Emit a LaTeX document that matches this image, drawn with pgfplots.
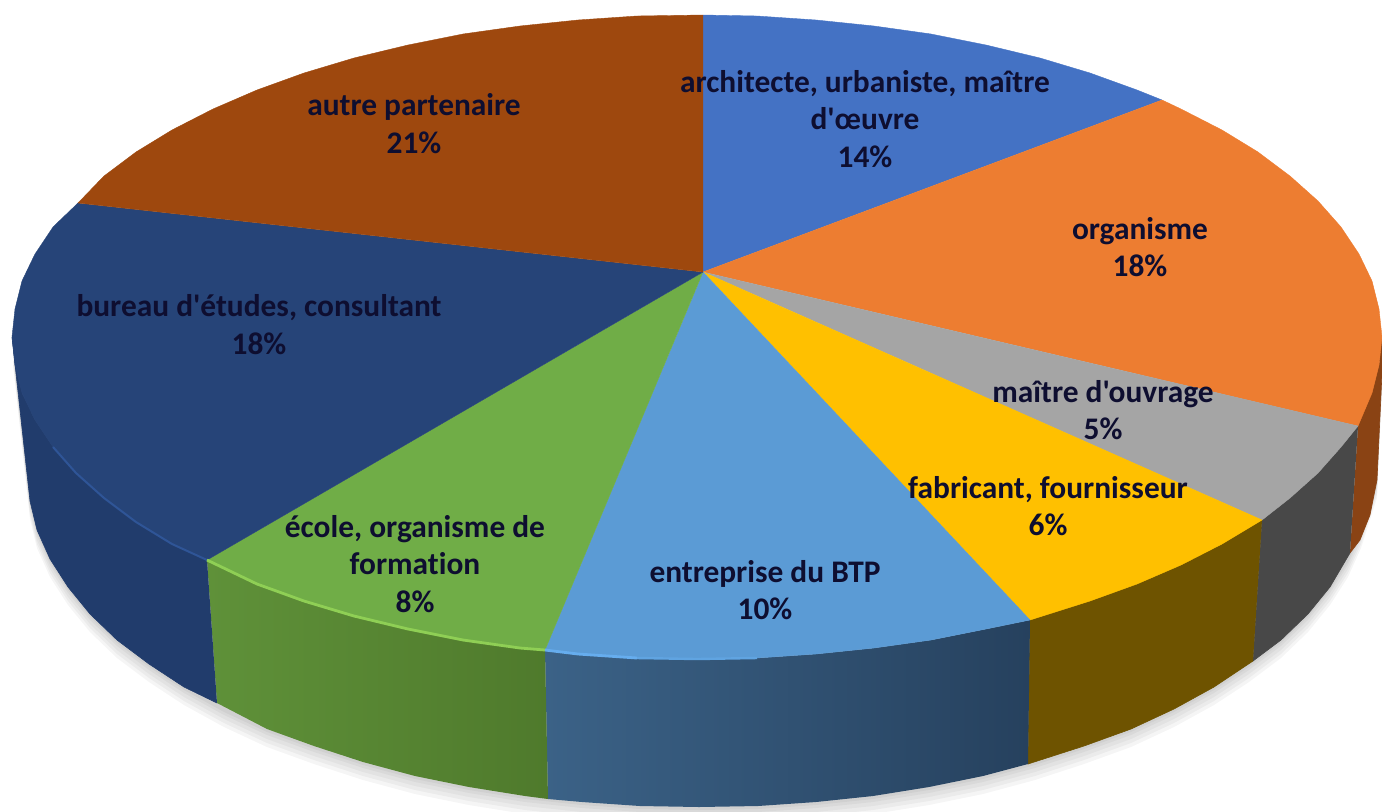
\documentclass[border=0pt]{standalone}
\usepackage{pgfplots}
\pgfplotsset{compat=1.18}
\usepackage{fontspec}
\setmainfont{Carlito}[Ligatures={TeXReset,NoCommon}]
\definecolor{cBlue}{HTML}{4472C4}
\definecolor{cOrange}{HTML}{ED7D31}
\definecolor{cGray}{HTML}{A5A5A5}
\definecolor{cYellow}{HTML}{FFC000}
\definecolor{cLBlue}{HTML}{5B9BD5}
\definecolor{cGreen}{HTML}{70AD47}
\definecolor{cNavy}{HTML}{264478}
\definecolor{cBrown}{HTML}{9E480E}
\definecolor{sOrange}{HTML}{8A4314}
\definecolor{sGray}{HTML}{484848}
\definecolor{sYellow}{HTML}{6E5300}
\definecolor{sBlueL}{HTML}{3B6287}
\definecolor{sBlueR}{HTML}{26415E}
\definecolor{sGreenL}{HTML}{4F7A2C}
\definecolor{sGreenR}{HTML}{5F9139}
\definecolor{sNavy}{HTML}{213C6C}
\definecolor{rGreen}{HTML}{8FCF55}
\definecolor{rBlue}{HTML}{66ADEE}
\definecolor{rNavy}{HTML}{2F5597}
\definecolor{txt}{HTML}{0E0E30}
\tikzset{lbl/.style={font=\fontsize{15.7}{18.9}\selectfont\bfseries, text=txt, align=center, inner sep=0pt}}
\begin{document}
\begin{tikzpicture}
\path[use as bounding box] (0,0) rectangle (691pt,405.5pt);
\begin{axis}[
  at={(0,0)}, anchor=south west,
  scale only axis, width=691pt, height=405.5pt,
  xmin=0, xmax=1382, ymin=0, ymax=811, y dir=reverse,
  hide axis, no markers, clip=true,
  every axis plot/.append style={forget plot}
]
% soft shadow
\pgfplotsinvokeforeach{9pt,7pt,5pt,3pt,1.5pt}{
\addplot[fill=black, fill opacity=0.04, draw=none, yshift=-#1] coordinates {(1382,373)(1377,480)(1361,530)(1348,559)(1330,587)(1308,614)(1281,640)(1249,664)(1214,687)(1174,709)(1131,729)(1084,746)(1035,762)(983,776)(929,787)(873,796)(816,802)(758,806)(699,807)(640,806)(582,802)(525,796)(469,787)(415,776)(363,762)(314,746)(267,729)(224,709)(184,687)(149,664)(117,640)(90,614)(68,587)(50,559)(37,530)(30,501)(13,347)};
}
% side faces
\addplot[fill=sOrange, draw=sOrange, line width=0.3pt] coordinates {(1358,426)(1379,365)(1382,337)(1382,373)(1377,480)(1370,515)(1360,540)(1350,553)};
\addplot[fill=sGray, draw=sGray, line width=0.3pt] coordinates {(1358,426)(1341,447)(1318,473)(1290,498)(1262,520)(1253,661)(1281,640)(1308,614)(1330,587)(1350,553)};
\addplot[fill=sYellow, draw=sYellow, line width=0.3pt] coordinates {(1262,520)(1222,544)(1181,565)(1137,584)(1090,601)(1030,620)(1028,764)(1084,746)(1131,729)(1174,709)(1214,687)(1253,661)};
\addplot[left color=sBlueL, right color=sBlueR, draw=none] coordinates {(1030,620)(986,629)(931,640)(874,648)(816,654)(757,658)(697,659)(637,658)(578,654)(545,650)(548,799)(582,802)(640,806)(699,807)(758,806)(816,802)(873,796)(929,787)(983,776)(1028,764)};
\addplot[left color=sGreenR, right color=sGreenL, draw=none] coordinates {(545,650)(520,648)(463,640)(408,629)(354,616)(304,601)(257,584)(207,560)(217,703)(267,729)(314,746)(363,762)(415,776)(469,787)(525,796)(548,799)};
\addplot[fill=sNavy, draw=sNavy, line width=0.3pt] coordinates {(207,560)(172,544)(136,522)(104,498)(76,473)(53,447)(35,420)(22,393)(15,365)(12,337)(30,501)(37,530)(50,559)(68,587)(90,614)(117,640)(149,664)(184,687)(217,703)};
% top faces
\addplot[fill=cBlue, draw=cBlue, line width=0.2pt] coordinates {(703,272)(703,15)(757,16)(816,20)(874,26)(931,34)(986,45)(1040,58)(1090,73)(1137,90)(1162,100)};
\addplot[fill=cOrange, draw=cOrange, line width=0.2pt] coordinates {(703,272)(1162,100)(1181,109)(1222,130)(1258,152)(1290,176)(1318,201)(1341,227)(1359,254)(1372,281)(1379,309)(1382,337)(1379,365)(1372,393)(1358,426)};
\addplot[fill=cGray, draw=cGray, line width=0.2pt] coordinates {(703,272)(1358,426)(1341,447)(1318,473)(1290,498)(1262,520)};
\addplot[fill=cYellow, draw=cYellow, line width=0.2pt] coordinates {(703,272)(1262,520)(1222,544)(1181,565)(1137,584)(1090,601)(1030,620)};
\addplot[fill=cLBlue, draw=cLBlue, line width=0.2pt] coordinates {(703,272)(1030,620)(986,629)(931,640)(874,648)(816,654)(757,658)(697,659)(637,658)(578,654)(545,650)};
\addplot[fill=cGreen, draw=cGreen, line width=0.2pt] coordinates {(703,272)(545,650)(520,648)(463,640)(408,629)(354,616)(304,601)(257,584)(207,560)};
\addplot[fill=cNavy, draw=cNavy, line width=0.2pt] coordinates {(703,272)(207,560)(172,544)(136,522)(104,498)(76,473)(53,447)(35,420)(22,393)(15,365)(12,337)(15,309)(22,281)(35,254)(53,227)(78,203)};
\addplot[fill=cBrown, draw=cBrown, line width=0.2pt] coordinates {(703,272)(78,203)(104,176)(136,152)(172,130)(213,109)(257,90)(304,73)(354,58)(408,45)(463,34)(520,26)(578,20)(637,16)(703,15)};
% rim highlights
\addplot[color=rNavy, line width=1pt] coordinates {(53,447)(76,473)(104,498)(136,522)(172,544)(207,560)};
\addplot[color=rGreen, line width=1.4pt] coordinates {(207,560)(257,584)(304,601)(354,616)(408,629)(463,640)(520,648)(545,650)};
\addplot[color=rBlue, line width=1.4pt] coordinates {(545,650)(578,654)(637,658)};
\addplot[color=rBlue!50!cLBlue, line width=1.2pt] coordinates {(637,658)(697,659)(757,658)};
% labels
\node[lbl] at (axis cs:865,119) {architecte, urbaniste, maître\\d'œuvre\\14\%};
\node[lbl] at (axis cs:1140,247) {organisme\\18\%};
\node[lbl] at (axis cs:1103,410) {maître d'ouvrage\\5\%};
\node[lbl] at (axis cs:1048,506) {fabricant, fournisseur\\6\%};
\node[lbl] at (axis cs:765,590) {entreprise du BTP\\10\%};
\node[lbl] at (axis cs:415,564) {école, organisme de\\formation\\8\%};
\node[lbl] at (axis cs:259,325) {bureau d'études, consultant\\18\%};
\node[lbl] at (axis cs:414,124) {autre partenaire\\21\%};
\end{axis}
\end{tikzpicture}
\end{document}
